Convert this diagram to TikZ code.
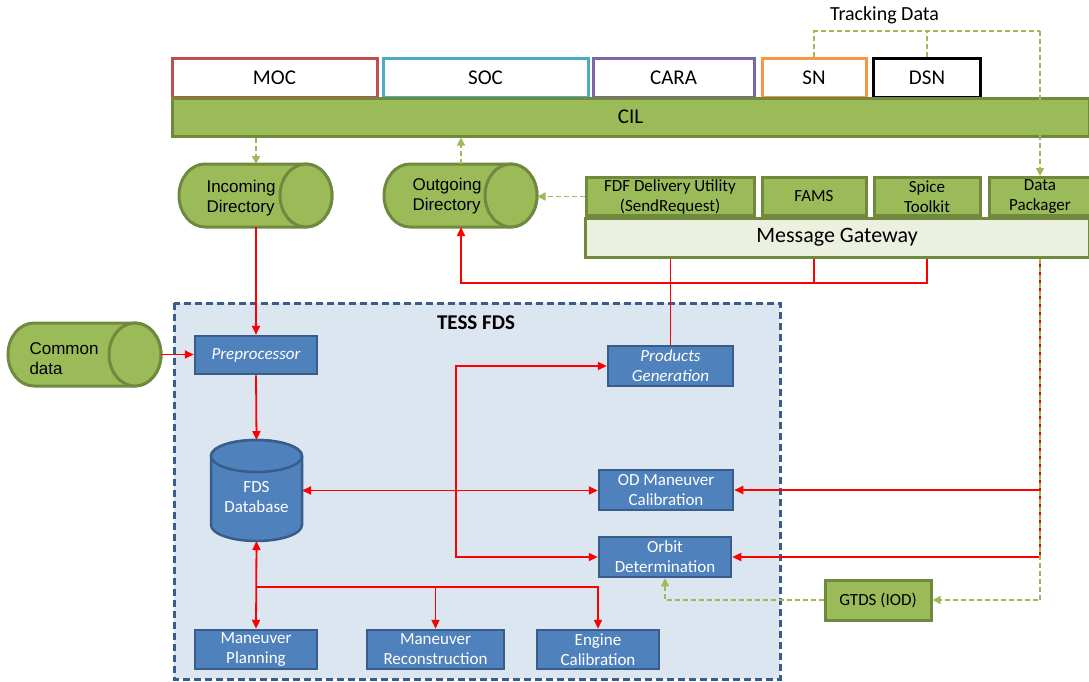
\documentclass[tikz,border=0pt]{standalone}
\usepackage{fontspec}
\setmainfont{Carlito}
\newfontfamily\arialf{Liberation Sans}
\usetikzlibrary{arrows.meta}
\definecolor{cilg}{HTML}{9BBB59}
\definecolor{cilb}{HTML}{71893F}
\definecolor{gwf}{HTML}{EBF1DE}
\definecolor{bfill}{HTML}{4F81BD}
\definecolor{bdraw}{HTML}{385D8A}
\definecolor{tessf}{HTML}{DCE6F1}
\definecolor{mocc}{HTML}{C0504D}
\definecolor{socc}{HTML}{4BACC6}
\definecolor{carac}{HTML}{8064A2}
\definecolor{snc}{HTML}{F79646}
\definecolor{redl}{HTML}{FF0000}
\tikzset{
  topbox/.style={draw, line width=3pt, fill=white, minimum height=39pt, inner sep=0pt, font=\fontsize{21}{24}\selectfont},
  gbox/.style={draw=cilb, fill=cilg, line width=3pt, inner sep=0pt, align=center, font=\fontsize{17}{20}\selectfont},
  bbox/.style={draw=bdraw, fill=bfill, line width=2.5pt, inner sep=0pt, align=center, text=white, font=\fontsize{17}{20}\selectfont},
  cyl/.style={draw=cilb, fill=cilg, line width=3pt},
  dbs/.style={draw=bdraw, fill=bfill, line width=2.5pt},
  cyltext/.style={align=left, anchor=west, font=\arialf\fontsize{17}{20}\selectfont},
  rl/.style={draw=redl, line width=1.8pt},
  rarr/.style={rl, -{Triangle[length=9pt,width=8pt]}},
  rboth/.style={rl, {Triangle[length=9pt,width=8pt]}-{Triangle[length=9pt,width=8pt]}},
  gd/.style={draw=cilg, line width=1.5pt, dash pattern=on 5pt off 3pt},
  garr/.style={gd, -{Triangle[length=8pt,width=8pt]}},
  hid/.style={inner sep=0pt, outer sep=0pt}
}
\begin{document}
\begin{tikzpicture}[x=1pt,y=-1pt]
\useasboundingbox (0,0) rectangle (1089,681);
% TESS FDS frame
\draw[fill=tessf, draw=bdraw, line width=3pt, dash pattern=on 7pt off 4pt] (174,303) rectangle (780,679);
\node[font=\bfseries\fontsize{21}{24}\selectfont] (tess) at (476,323) {TESS FDS};

% top boxes
\node[topbox, draw=mocc, minimum width=205pt] (moc) at (274.5,77.5) {MOC};
\node[topbox, draw=socc, minimum width=205pt] (soc) at (485.5,77.5) {SOC};
\node[topbox, draw=carac, minimum width=161pt] (cara) at (673.5,77.5) {CARA};
\node[topbox, draw=snc, minimum width=104pt] (sn) at (814,77.5) {SN};
\node[topbox, draw=black, minimum width=107pt] (dsn) at (927,77.5) {DSN};
\node[draw=cilb, fill=cilg, line width=3pt, minimum width=917pt, minimum height=38pt, inner sep=0pt, font=\fontsize{21}{24}\selectfont] (cil) at (630.5,117) {CIL};
\node[font=\fontsize{20}{22}\selectfont] (trk) at (884.5,15) {Tracking Data};

% gateway group
\node[gbox, minimum width=168pt, minimum height=38pt] (fdf) at (670,196.5) {FDF Delivery Utility\\(SendRequest)};
\node[gbox, minimum width=104pt, minimum height=38pt] (fams) at (814,196.5) {FAMS};
\node[gbox, minimum width=106pt, minimum height=38pt] (spice) at (927,196.5) {Spice\\Toolkit};
\node[gbox, minimum width=102pt, minimum height=38pt] (dp) at (1040,196.5) {Data\\Packager};
\node[draw=cilb, fill=gwf, line width=3pt, minimum width=504pt, minimum height=39pt, inner sep=0pt, font=\fontsize{22}{24}\selectfont] (gw) at (837,237.5) {Message Gateway};

% cylinders
\filldraw[cyl] (205,164) -- (306,164) arc[start angle=90,end angle=-90,x radius=26pt,y radius=31.5pt] -- (205,227) arc[start angle=270,end angle=90,x radius=26pt,y radius=31.5pt] -- cycle;
\draw[cyl] (306,195.5) ellipse[x radius=26pt,y radius=31.5pt];
\node[hid, minimum width=153pt, minimum height=63pt] (inc) at (256,195.5) {};
\node[cyltext] (inct) at (203,198) {Incoming\\Directory};

\filldraw[cyl] (410,164) -- (511,164) arc[start angle=90,end angle=-90,x radius=26pt,y radius=31.5pt] -- (410,227) arc[start angle=270,end angle=90,x radius=26pt,y radius=31.5pt] -- cycle;
\draw[cyl] (511,195.5) ellipse[x radius=26pt,y radius=31.5pt];
\node[hid, minimum width=153pt, minimum height=63pt] (outg) at (461,195.5) {};
\node[cyltext] (outgt) at (409,196) {Outgoing\\Directory};

\filldraw[cyl] (34,323) -- (135,323) arc[start angle=90,end angle=-90,x radius=26pt,y radius=31.5pt] -- (34,386) arc[start angle=270,end angle=90,x radius=26pt,y radius=31.5pt] -- cycle;
\draw[cyl] (135,354.5) ellipse[x radius=26pt,y radius=31.5pt];
\node[hid, minimum width=153pt, minimum height=63pt] (com) at (84.5,354.5) {};
\node[cyltext] (comt) at (26,359) {Common\\data};

% database
\filldraw[dbs] (211,456) -- (211,525) arc[start angle=180,end angle=360,x radius=45.5pt,y radius=16pt] -- (302,456) arc[start angle=0,end angle=180,x radius=45.5pt,y radius=16pt] -- cycle;
\draw[dbs] (256.5,456) ellipse[x radius=45.5pt,y radius=16pt];
\node[hid, minimum width=91pt, minimum height=101pt] (db) at (256.5,490.5) {};
\node[align=center, text=white, font=\fontsize{17}{20}\selectfont] (dbt) at (256.5,497) {FDS\\Database};

% blue boxes
\node[bbox, minimum width=122pt, minimum height=38pt, font=\itshape\fontsize{17}{20}\selectfont] (pre) at (256,355) {Preprocessor};
\node[bbox, minimum width=125pt, minimum height=40pt, font=\itshape\fontsize{17}{20}\selectfont] (pg) at (670.5,366) {Products\\Generation};
\node[bbox, minimum width=134pt, minimum height=40pt] (odm) at (666,490) {OD Maneuver\\Calibration};
\node[bbox, minimum width=132pt, minimum height=40pt] (od) at (665,557) {Orbit\\Determination};
\node[bbox, minimum width=122pt, minimum height=39pt] (mp) at (256,649.5) {Maneuver\\Planning};
\node[bbox, minimum width=137pt, minimum height=39pt] (mr) at (435.5,649.5) {Maneuver\\Reconstruction};
\node[bbox, minimum width=122pt, minimum height=39pt] (ec) at (598,649.5) {Engine\\Calibration};
\node[gbox, minimum width=106pt, minimum height=40pt] (gtds) at (878,600) {GTDS (IOD)};

% helper coordinates
\coordinate (ty) at (0,31);
\coordinate (hr) at (0,283);
\coordinate (bx) at (456,0);
\coordinate (jn) at (0,587);

% green dashed connectors
\draw[gd] (sn.north) |- (dp.north |- ty);
\draw[gd] (dsn.north) -- (dsn.north |- ty);
\draw[garr] (dp.north |- ty) -- (dp.north);
\draw[garr] (inc.north |- cil.south) -- (inc.north);
\draw[garr] (outg.north) -- (outg.north |- cil.south);
\draw[garr] (fdf.west) -- (fdf.west -| outg.east);

% red connectors
\draw[rarr] (inc.south) -- (inc.south |- pre.north);
\draw[rarr] (com.east) -- (com.east -| pre.west);
\draw[rarr] (pre.south) -- (db.north);
\draw[rboth] (db.east) -- (db.east -| odm.west);
\draw[rboth] (db.south) -- (mp.north);
\draw[rarr] (db.south |- jn) -| (mr.north);
\draw[rarr] (db.south |- jn) -| (ec.north);
\draw[rboth] (pg.west) -| (bx |- od.west) -- (od.west);
\draw[rl] (pg.north |- gw.south) -- (pg.north);
\draw[rl] (fams.south |- gw.south) -- (fams.south |- hr);
\draw[rarr] (spice.south |- gw.south) |- (outg.south |- hr) -- (outg.south);
\draw[rarr] (dp.south |- gw.south) |- (odm.east);
\draw[rarr] (dp.south |- gw.south) |- (od.east);
\draw[garr] (dp.south |- gw.south) |- (gtds.east);
\draw[garr] (gtds.west) -| (od.south);
\end{tikzpicture}
\end{document}
